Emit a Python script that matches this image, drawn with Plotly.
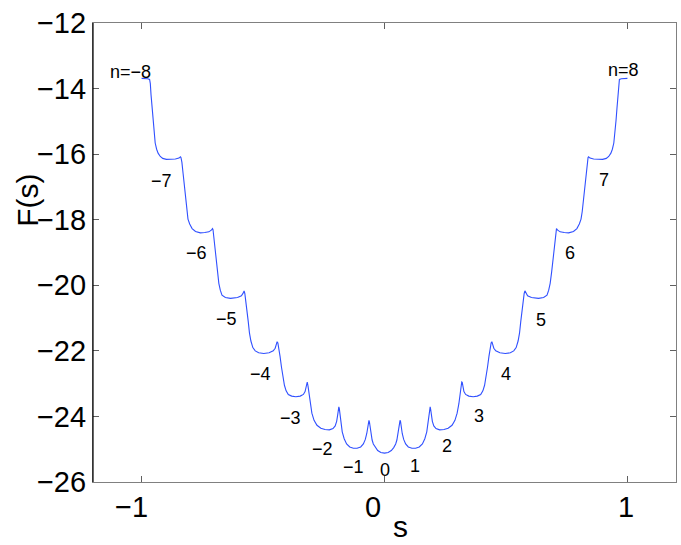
import plotly.graph_objects as go

# ---- data ----
s_left = [-1.000,-0.990,-0.975,-0.967,-0.964,-0.961,-0.957,-0.953,-0.949,-0.944,-0.938,-0.932,-0.923,-0.913,-0.898,-0.880,-0.861,-0.846,-0.840,-0.838,-0.834,-0.829,-0.824,-0.819,-0.814,-0.809,-0.802,-0.792,-0.778,-0.758,-0.740,-0.723,-0.713,-0.708,-0.706,-0.703,-0.699,-0.694,-0.688,-0.682,-0.676,-0.669,-0.655,-0.634,-0.605,-0.589,-0.582,-0.578,-0.575,-0.571,-0.566,-0.561,-0.556,-0.550,-0.542,-0.532,-0.518,-0.497,-0.475,-0.458,-0.450,-0.445,-0.442,-0.439,-0.435,-0.430,-0.424,-0.418,-0.412,-0.405,-0.396,-0.382,-0.365,-0.347,-0.334,-0.327,-0.323,-0.320,-0.318,-0.315,-0.311,-0.306,-0.299,-0.290,-0.278,-0.262,-0.245,-0.227,-0.212,-0.203,-0.197,-0.193,-0.190,-0.188,-0.186,-0.183,-0.179,-0.174,-0.166,-0.156,-0.143,-0.128,-0.113,-0.098,-0.087,-0.079,-0.073,-0.069,-0.066,-0.064,-0.062,-0.059,-0.055,-0.051,-0.046,-0.038,-0.028,-0.015]
F_left = [-13.69,-13.69,-13.70,-13.72,-13.85,-14.20,-14.60,-14.98,-15.35,-15.66,-15.85,-15.97,-16.07,-16.13,-16.16,-16.16,-16.15,-16.12,-16.08,-16.10,-16.25,-16.60,-17.00,-17.40,-17.75,-17.98,-18.13,-18.27,-18.36,-18.40,-18.39,-18.37,-18.32,-18.27,-18.30,-18.52,-18.85,-19.20,-19.60,-19.94,-20.15,-20.30,-20.37,-20.40,-20.37,-20.32,-20.24,-20.17,-20.25,-20.45,-20.76,-21.10,-21.45,-21.70,-21.90,-22.00,-22.06,-22.08,-22.06,-22.00,-21.92,-21.80,-21.72,-21.76,-21.90,-22.17,-22.50,-22.80,-23.05,-23.22,-23.33,-23.38,-23.40,-23.38,-23.33,-23.24,-23.10,-22.96,-22.95,-23.07,-23.32,-23.62,-23.90,-24.12,-24.27,-24.36,-24.40,-24.41,-24.37,-24.29,-24.15,-23.97,-23.78,-23.71,-23.76,-23.95,-24.22,-24.47,-24.68,-24.84,-24.93,-24.97,-24.97,-24.93,-24.84,-24.70,-24.52,-24.32,-24.15,-24.12,-24.17,-24.33,-24.55,-24.72,-24.84,-24.95,-25.04,-25.10]

s_right = [0.000,0.015,0.028,0.038,0.046,0.051,0.055,0.059,0.062,0.064,0.066,0.069,0.073,0.079,0.087,0.098,0.113,0.128,0.143,0.156,0.166,0.174,0.179,0.183,0.186,0.188,0.190,0.193,0.197,0.203,0.212,0.227,0.245,0.262,0.278,0.290,0.299,0.306,0.311,0.315,0.318,0.320,0.323,0.327,0.334,0.347,0.365,0.382,0.396,0.405,0.412,0.418,0.424,0.430,0.435,0.439,0.442,0.445,0.450,0.458,0.475,0.497,0.518,0.532,0.542,0.550,0.556,0.561,0.566,0.571,0.575,0.578,0.582,0.589,0.605,0.634,0.655,0.669,0.676,0.682,0.688,0.694,0.699,0.703,0.706,0.708,0.713,0.723,0.740,0.758,0.778,0.792,0.802,0.809,0.814,0.819,0.824,0.829,0.834,0.838,0.840,0.846,0.861,0.880,0.898,0.913,0.923,0.932,0.938,0.944,0.949,0.953,0.957,0.961,0.964,0.967,0.975,0.990,1.000]
F_right = [-25.12,-25.10,-25.04,-24.95,-24.84,-24.72,-24.55,-24.33,-24.17,-24.12,-24.15,-24.32,-24.52,-24.70,-24.84,-24.93,-24.97,-24.97,-24.93,-24.84,-24.68,-24.47,-24.22,-23.95,-23.76,-23.71,-23.78,-23.97,-24.15,-24.29,-24.37,-24.41,-24.40,-24.36,-24.27,-24.12,-23.90,-23.62,-23.32,-23.07,-22.95,-22.96,-23.10,-23.24,-23.33,-23.38,-23.40,-23.38,-23.33,-23.22,-23.05,-22.80,-22.50,-22.17,-21.90,-21.76,-21.72,-21.80,-21.92,-22.00,-22.06,-22.08,-22.06,-22.00,-21.90,-21.70,-21.45,-21.10,-20.76,-20.45,-20.25,-20.17,-20.24,-20.32,-20.37,-20.40,-20.37,-20.30,-20.15,-19.94,-19.60,-19.20,-18.85,-18.52,-18.30,-18.27,-18.32,-18.37,-18.39,-18.40,-18.36,-18.27,-18.13,-17.98,-17.75,-17.40,-17.00,-16.60,-16.25,-16.10,-16.08,-16.12,-16.15,-16.16,-16.16,-16.13,-16.07,-15.97,-15.85,-15.66,-15.35,-14.98,-14.60,-14.20,-13.85,-13.72,-13.70,-13.69,-13.69]

# level labels n and where they sit
level_text = ["n=\u22128", "\u22127", "\u22126", "\u22125", "\u22124", "\u22123", "\u22122", "\u22121", "0",
              "1", "2", "3", "4", "5", "6", "7", "n=8"]
level_s = [-1.047, -0.916, -0.775, -0.649, -0.512, -0.388, -0.257, -0.128, 0.0,
           0.126, 0.257, 0.390, 0.501, 0.643, 0.765, 0.905, 0.983]
level_F = [-13.50, -16.82, -19.02, -21.03, -22.71, -24.06, -24.99, -25.53, -25.63,
           -25.51, -24.90, -23.99, -22.71, -21.06, -19.02, -16.79, -13.44]

x_ticks = [-1, 0, 1]
x_tick_text = ["\u22121", "0", "1"]
y_ticks = [-26, -24, -22, -20, -18, -16, -14, -12]

if len(s_left) != len(F_left) or len(s_right) != len(F_right):
    raise ValueError(f"length mismatch {len(s_left)} {len(F_left)} {len(s_right)} {len(F_right)}")

s_all = s_left + s_right
F_all = F_left + F_right

FONT = "Liberation Sans, Arial, Helvetica, sans-serif"

fig = go.Figure()
fig.add_trace(go.Scatter(x=s_all, y=F_all, mode="lines",
                         line=dict(color="#3050ff", width=1.1),
                         hoverinfo="skip", showlegend=False))

annotations = []
for t, xs, ys in zip(level_text, level_s, level_F):
    annotations.append(dict(x=xs, y=ys, xref="x", yref="y", text=t, showarrow=False,
                            font=dict(family=FONT, size=18, color="black"),
                            xanchor="center", yanchor="middle"))

# x tick labels drawn as text at the ticks (as in the reference, slightly left of the tick)
x_label_offsets = [-10, -12, -1]
for v, t, dx in zip(x_ticks, x_tick_text, x_label_offsets):
    annotations.append(dict(x=v, y=0, xref="x", yref="paper", text=t, showarrow=False,
                            xanchor="center", yanchor="middle", xshift=dx, yshift=-25,
                            font=dict(family=FONT, size=29, color="black")))

L, R, T, B = 92.5, 676.0, 22.7, 482.0
W, H = 681, 545
pw, ph = R - L, B - T

annotations.append(dict(x=(400 - L) / pw, y=(B - 527) / ph, xref="paper", yref="paper",
                        text="s", showarrow=False, xanchor="center", yanchor="middle",
                        font=dict(family=FONT, size=30, color="black")))
annotations.append(dict(x=(27 - L) / pw, y=(B - 200) / ph, xref="paper", yref="paper",
                        text="F(s)", showarrow=False, textangle=-90,
                        xanchor="center", yanchor="middle",
                        font=dict(family=FONT, size=30, color="black")))

axis_common = dict(showgrid=False, zeroline=False, showline=True, mirror="ticks",
                   linecolor="#808080", linewidth=1.2, ticks="inside", ticklen=6,
                   tickcolor="#606060", tickwidth=1, automargin=False,
                   tickfont=dict(family=FONT, size=29, color="black"))

fig.update_layout(
    width=W, height=H,
    margin=dict(l=L, r=W - R, t=T, b=H - B, pad=0),
    paper_bgcolor="white", plot_bgcolor="white",
    xaxis=dict(range=[-1.2, 1.2], tickvals=x_ticks, showticklabels=False, **axis_common),
    yaxis=dict(range=[-26, -12], tickvals=y_ticks, **axis_common),
    annotations=annotations,
    shapes=[dict(type="line", xref="paper", yref="paper", x0=0, x1=0, y0=0, y1=1,
                 line=dict(color="black", width=1.2))],
)

fig.write_html("out.html",
               config={"displayModeBar": False},
               post_script="document.body.style.margin='0';document.body.style.overflow='hidden';")
